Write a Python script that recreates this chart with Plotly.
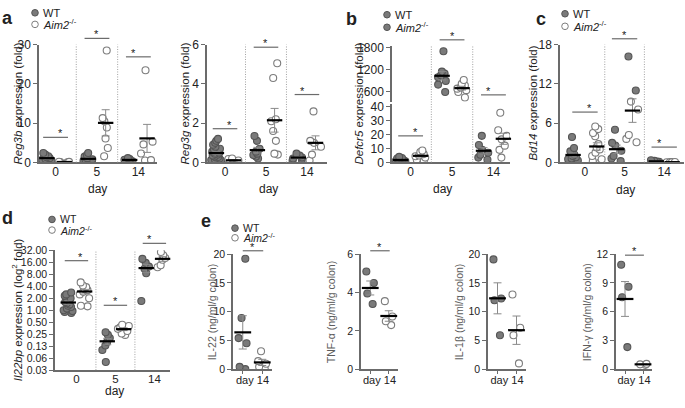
import numpy as np
import plotly.graph_objects as go

W, H = 685, 408

# ------------------------------------------------------------------ data
days = ["0", "5", "14"]
day_e = "day 14"

# a (left) Reg3b expression (fold)  -- per day: [d0, d5, d14]
reg3b_wt = [[2.4, 2.0, 1.6, 1.3, 1.1, 0.9, 0.7, 0.5, 0.3, 0.2],
            [2.4, 1.9, 1.5, 1.1, 0.8, 0.6, 0.4, 0.3, 0.2, 0.1],
            [1.1, 0.9, 0.7, 0.5, 0.4, 0.3]]
reg3b_ko = [[0.2, 0.15, 0.1, 0.05],
            [28.5, 11.3, 10.5, 8.9, 6.1, 3.7, 1.6],
            [23.5, 5.3, 4.6, 2.3, 0.6, 0.5]]
reg3b_sig = [6.4, 31.6, 26.9]
reg3b_ticks = [0, 10, 20, 30]

# a (right) Reg3g expression (fold)
reg3g_wt = [[1.2, 1.1, 1.0, 0.9, 0.8, 0.7, 0.65, 0.55, 0.5, 0.45, 0.4, 0.35,
             0.3, 0.28, 0.25, 0.2, 0.15, 0.12, 0.1, 0.05, 0.03],
            [1.35, 1.1, 0.7, 0.55, 0.45, 0.38, 0.3, 0.2],
            [0.45, 0.35, 0.25, 0.2, 0.15, 0.1]]
reg3g_ko = [[0.2, 0.18, 0.1, 0.05, 0.02],
            [5.05, 4.3, 2.2, 2.1, 1.6, 1.1, 0.45, 0.4],
            [2.6, 1.1, 1.0, 0.8, 0.4, 0.1]]
reg3g_sig = [1.72, 5.87, 3.46]
reg3g_ticks = [0, 2, 4, 6]

# b Defcr5 expression (fold) (broken axis; day 5 on upper segment)
defcr5_wt = [[4.0, 3.2, 2.8, 2.4, 2.1, 1.8, 1.5, 1.2, 1.0, 0.8, 0.5, 0.3],
             [1700, 1150, 1100, 1050, 1000, 900, 800, 600],
             [19, 12.5, 9, 7, 5.5, 3.5, 2]]
defcr5_ko = [[8.5, 7.5, 6.0, 5.0, 4.5, 3.5, 2.0, 1.0],
             [924, 820, 775, 720, 690, 650, 600, 450],
             [35.5, 23, 19, 16.5, 12, 9, 3.5]]
defcr5_sig = [19, 2009, 522]
defcr5_ticks_low = [0, 10, 20, 30, 40]
defcr5_ticks_up = [600, 1200, 1800]

# c Bd14 expression (fold)
bd14_wt = [[3.9, 2.2, 1.7, 1.5, 1.2, 1.0, 0.8, 0.6, 0.5, 0.3, 0.1, 0.0],
           [5.0, 3.0, 2.6, 1.8, 1.0, 0.6, 0.2],
           [0.35, 0.25, 0.15, 0.1, 0.05]]
bd14_ko = [[5.5, 5.1, 4.5, 4.0, 2.8, 2.3, 2.0, 1.5, 1.0, 0.5, 0.2, 0.0],
           [9.3, 8.1, 4.2, 3.6, 3.1],
           [0.08, 0.05, 0.05, 0.03]]
bd14_ko_d5_dark = [16.2, 11.0]
bd14_sig = [7.7, 18.9, 2.35]
bd14_ticks = [0, 6, 12, 18]

# d Il22bp expression (log2 fold)
il22bp_wt = [[2.8, 2.5, 2.3, 2.0, 1.9, 1.7, 1.6, 1.5, 1.4, 1.3, 1.2, 1.1, 1.0,
              0.95, 0.9, 0.85],
             [0.28, 0.24, 0.2, 0.16, 0.13, 0.1, 0.05],
             [19.5, 15.5, 12.5, 11, 8.5, 1.7]]
il22bp_ko = [[5.0, 4.2, 3.8, 3.4, 3.2, 2.9, 2.5, 2.0, 1.3, 1.25],
             [0.43, 0.4, 0.37, 0.34, 0.3, 0.26, 0.24],
             [29, 24, 20.5, 18.5, 13.5, 12]]
il22bp_sig = [17.6, 1.33, 48]
il22bp_tickvals = [32, 16, 8, 4, 2, 1, 0.5, 0.25, 0.125, 0.0625, 0.03125]
il22bp_ticktext = ["32.00", "16.00", "8.00", "4.00", "2.00", "1.00", "0.50",
                   "0.25", "0.13", "0.06", "0.03"]

# e cytokines at day 14 (ng/ml/g colon)
il22_wt = [19.2, 8.9, 5.4, 4.5, 0.4, 0.0]
il22_ko = [3.1, 1.4, 0.95, 0.4, 0.0]
tnf_wt = [5.1, 4.5, 3.95, 3.4]
tnf_ko = [3.55, 2.75, 2.5, 2.3]
il1b_wt = [19.1, 12.3, 12.0, 5.9]
il1b_ko = [13.0, 7.2, 5.9, 1.0]
ifng_wt = [10.9, 8.6, 7.5, 2.3]
ifng_ko = [0.55, 0.5, 0.45]
e_sig = [20.6, 6.18, None, 11.9]

# ------------------------------------------------------------------ style
FONT = "Liberation Sans, Arial, sans-serif"
AX = "#6b6b6b"
WT_FILL = "#7a7a7a"
WT_EDGE = "#555555"
KO_EDGE = "#7d7d7d"
SEP = dict(color="#a0a0a0", width=1, dash="1px,1.5px")
MS = 7

fig = go.Figure()
layout = dict(width=W, height=H, margin=dict(l=0, r=0, t=0, b=0),
              paper_bgcolor="white", plot_bgcolor="rgba(0,0,0,0)",
              showlegend=False, boxmode="overlay", boxgap=0, boxgroupgap=0,
              font=dict(family=FONT, color="#222222", size=12))
shapes, annotations = [], []
XR, YR, YLOG = {}, {}, {}


def fx(px):
    return px / W


def fy(py):
    return 1 - py / H


def xn(n):
    return "x" if n == 1 else f"x{n}"


def yn(n):
    return "y" if n == 1 else f"y{n}"


def axes(n, xpx, ypx, xr, yr, yticks, ytext=None, xkw=None, ylog=False,
         tick_size=12, x_visible=True):
    XR[n], YR[n], YLOG[n] = xr, yr, ylog
    xa = dict(domain=[fx(xpx[0]), fx(xpx[1])], range=list(xr), anchor=yn(n),
              showline=x_visible, linecolor=AX, linewidth=1.5, showgrid=False,
              zeroline=False, ticks="", ticklabelstandoff=-3,
              tickfont=dict(size=tick_size),
              visible=x_visible, fixedrange=True)
    if xkw:
        xa.update(xkw)
    ya = dict(domain=[fy(ypx[1]), fy(ypx[0])], anchor=xn(n), showline=True,
              linecolor=AX, linewidth=1.5, showgrid=False, zeroline=False,
              ticks="outside", ticklen=4, tickwidth=1.2, tickcolor=AX,
              tickmode="array", tickvals=yticks,
              tickfont=dict(size=tick_size), fixedrange=True)
    if ylog:
        ya.update(type="log", range=[np.log10(yr[0]), np.log10(yr[1])])
    else:
        ya.update(range=list(yr))
    if ytext is not None:
        ya["ticktext"] = ytext
    layout["xaxis" if n == 1 else f"xaxis{n}"] = xa
    layout["yaxis" if n == 1 else f"yaxis{n}"] = ya


def points(n, xs, ys, dark, width):
    fig.add_trace(go.Box(
        x=xs, y=ys, xaxis=xn(n), yaxis=yn(n), boxpoints="all", jitter=1,
        pointpos=0, width=width, fillcolor="rgba(0,0,0,0)",
        line=dict(width=0, color="rgba(0,0,0,0)"), whiskerwidth=0,
        marker=dict(size=MS, color=WT_FILL if dark else "white",
                    line=dict(color=WT_EDGE if dark else KO_EDGE, width=1.1)),
        hoverinfo="skip"))


def mean_sem(v):
    v = np.asarray(v, dtype=float)
    return v.mean(), (v.std(ddof=1) / np.sqrt(len(v)) if len(v) > 1 else 0.0)


def means(n, xs, groups, size=11):
    ms = [mean_sem(g) for g in groups]
    fig.add_trace(go.Scatter(
        x=xs, y=[m for m, _ in ms], xaxis=xn(n), yaxis=yn(n), mode="markers",
        cliponaxis=False,
        marker=dict(symbol="line-ew", size=size, color="black",
                    line=dict(color="black", width=2.2)),
        error_y=dict(type="data", array=[s for _, s in ms], color="#8a8a8a",
                     thickness=1, width=4),
        hoverinfo="skip"))


def xfrac(n, x):
    r = XR[n]
    return (x - r[0]) / (r[1] - r[0])


def yfrac(n, y):
    r = YR[n]
    if YLOG[n]:
        return (np.log10(y) - np.log10(r[0])) / (np.log10(r[1]) - np.log10(r[0]))
    return (y - r[0]) / (r[1] - r[0])


def sig(n, x0, x1, y):
    xf0, xf1, yf = xfrac(n, x0), xfrac(n, x1), yfrac(n, y)
    shapes.append(dict(type="line", xref=f"{xn(n)} domain", yref=f"{yn(n)} domain",
                       x0=xf0, x1=xf1, y0=yf, y1=yf,
                       line=dict(color=AX, width=1.2)))
    annotations.append(dict(text="*", xref=f"{xn(n)} domain",
                            yref=f"{yn(n)} domain", x=(xf0 + xf1) / 2, y=yf,
                            yanchor="bottom", showarrow=False, yshift=-4,
                            font=dict(size=11, color="#222")))


def separators(n, xs, paper_y=None):
    for x in xs:
        if paper_y is None:
            shapes.append(dict(type="line", xref=xn(n), yref=f"{yn(n)} domain",
                               x0=x, x1=x, y0=0, y1=1, line=SEP))
        else:
            shapes.append(dict(type="line", xref=xn(n), yref="paper",
                               x0=x, x1=x, y0=paper_y[0], y1=paper_y[1],
                               line=SEP))


def text(s, xpx, ypx, size=12, angle=0, bold=False, color="#222", xanchor="center"):
    annotations.append(dict(text=f"<b>{s}</b>" if bold else s, xref="paper",
                            yref="paper", x=fx(xpx), y=fy(ypx), showarrow=False,
                            xanchor=xanchor, yanchor="middle", textangle=angle,
                            font=dict(size=size, color=color, family=FONT)))


def legend(xpx, y1, y2, ko_dark=False, size=11, r=3.3):
    for yy, dark, lab in [(y1, True, "WT"),
                          (y2, ko_dark, "<i>Aim2</i><sup>-/-</sup>")]:
        shapes.append(dict(type="circle", xref="paper", yref="paper",
                           xsizemode="pixel", ysizemode="pixel",
                           xanchor=fx(xpx), yanchor=fy(yy),
                           x0=-r, x1=r, y0=-r, y1=r,
                           fillcolor=WT_FILL if dark else "white",
                           line=dict(color=WT_EDGE if dark else KO_EDGE, width=1)))
        text(lab, xpx + 6, yy, size=size, xanchor="left")


def group_panel(n, xpx, ypx, xr, yr, yticks, wt, ko, sigs, off=0.21, bw=0.3,
                ytext=None, ylog=False, tick_size=12, xtick_size=12):
    axes(n, xpx, ypx, xr, yr, yticks, ytext=ytext, ylog=ylog,
         tick_size=tick_size,
         xkw=dict(tickmode="array", tickvals=[1, 2, 3], ticktext=days,
                  tickfont=dict(size=xtick_size)))
    for groups, dark, sgn in [(wt, True, -1), (ko, False, 1)]:
        xs, ys = [], []
        for g, vals in enumerate(groups):
            xs += [g + 1 + sgn * off] * len(vals)
            ys += vals
        points(n, xs, ys, dark, bw)
        means(n, [g + 1 + sgn * off for g in range(3)], groups)
    separators(n, [1.5, 2.5])
    for g, y in enumerate(sigs):
        sig(n, g + 1 - 0.3, g + 1 + 0.3, y)


# ------------------------------------------------------------------ panel a
group_panel(1, (39, 157), (39, 161), (0.6, 3.45), (0, 30), reg3b_ticks,
            reg3b_wt, reg3b_ko, reg3b_sig)
group_panel(2, (207, 327), (39, 161), (0.56, 3.49), (0, 6), reg3g_ticks,
            reg3g_wt, reg3g_ko, reg3g_sig)

# ------------------------------------------------------------------ panel b (broken axis)
b_xr = (0.55, 3.4)
low_top = 40 * (161 - 100) / (161 - 103)
axes(3, (392, 510), (100, 161), b_xr, (0, low_top), defcr5_ticks_low,
     xkw=dict(tickmode="array", tickvals=[1, 2, 3], ticktext=days))
up_scale = (1800 - 600) / (88 - 42)
axes(4, (392, 510), (40, 98), b_xr,
     (600 - (98 - 88) * up_scale, 1800 + (42 - 40) * up_scale),
     defcr5_ticks_up, x_visible=False)
off = 0.24
for groups, dark, sgn in [(defcr5_wt, True, -1), (defcr5_ko, False, 1)]:
    lo = [groups[0], groups[2]]
    lo_x = [1 + sgn * off, 3 + sgn * off]
    xs, ys = [], []
    for x, v in zip(lo_x, lo):
        xs += [x] * len(v)
        ys += v
    points(3, xs, ys, dark, 0.3)
    means(3, lo_x, lo)
    points(4, [2 + sgn * off] * len(groups[1]), groups[1], dark, 0.3)
    means(4, [2 + sgn * off], [groups[1]])
separators(3, [1.5, 2.5], paper_y=(fy(161), fy(40)))
sig(3, 0.7, 1.3, defcr5_sig[0])
sig(4, 1.7, 2.3, defcr5_sig[1])
sig(4, 2.7, 3.3, defcr5_sig[2])

# ------------------------------------------------------------------ panel c
c_xr = (0.37, 3.5)
axes(5, (560, 684), (39, 161), c_xr, (0, 18), bd14_ticks,
     xkw=dict(tickmode="array", tickvals=[1, 2, 3], ticktext=days))
c_off = [0.3, 0.2, 0.2]
for groups, dark, sgn in [(bd14_wt, True, -1), (bd14_ko, False, 1)]:
    xs, ys = [], []
    for g, vals in enumerate(groups):
        xs += [g + 1 + sgn * c_off[g]] * len(vals)
        ys += vals
    points(5, xs, ys, dark, 0.32)
points(5, [2 + c_off[1]] * len(bd14_ko_d5_dark), bd14_ko_d5_dark, True, 0.32)
means(5, [g + 1 - c_off[g] for g in range(3)], bd14_wt)
means(5, [g + 1 + c_off[g] for g in range(3)],
      [bd14_ko[0], bd14_ko[1] + bd14_ko_d5_dark, bd14_ko[2]])
separators(5, [1.5, 2.5])
for g, y in enumerate(bd14_sig):
    sig(5, g + 1 - 0.32, g + 1 + 0.32, y)

# ------------------------------------------------------------------ panel d
group_panel(6, (55, 170), (252, 376), (0.45, 3.4), (0.03125, 32),
            il22bp_tickvals, il22bp_wt, il22bp_ko, il22bp_sig,
            ytext=il22bp_ticktext, ylog=True, tick_size=10.5, xtick_size=11.5)

# ------------------------------------------------------------------ panel e
e_panels = [
    (7, (233, 272), (0, 20), [0, 5, 10, 15, 20], il22_wt, il22_ko),
    (8, (361, 398), (0, 6), [0, 2, 4, 6], tnf_wt, tnf_ko),
    (9, (488, 526), (0, 20), [0, 5, 10, 15, 20], il1b_wt, il1b_ko),
    (10, (616, 652), (0, 12), [0, 3, 6, 9, 12], ifng_wt, ifng_ko),
]
for (n, xpx, yr, yt, wt, ko), s in zip(e_panels, e_sig):
    axes(n, xpx, (256, 375), (0.5, 2.5), yr, yt, tick_size=10.5,
         xkw=dict(tickmode="array", tickvals=[1.5], ticktext=[day_e],
                  ticks="", ticklabelstandoff=0, tickfont=dict(size=11),
                  minor=dict(tickmode="array", tickvals=[1, 2], ticks="outside",
                             ticklen=3, tickcolor=AX, tickwidth=1.2)))
    points(n, [1] * len(wt), wt, True, 0.5)
    points(n, [2] * len(ko), ko, False, 0.5)
    means(n, [1, 2], [wt, ko], size=12)
    if s is not None:
        sig(n, 1.0, 2.05, s)

# ------------------------------------------------------------------ texts
text("a", 7, 11, size=18, bold=True)
text("b", 351, 12, size=18, bold=True)
text("c", 541, 12, size=18, bold=True)
text("d", 7, 219, size=18, bold=True)
text("e", 206, 222, size=18, bold=True)

legend(35, 6, 18)
legend(387, 8, 21, ko_dark=True)
legend(565, 7, 20)
legend(52, 220, 231, size=10.5)
legend(235, 229, 239, size=10.5)

text("<i>Reg3b</i> expression (fold)", 18, 100, size=11.5, angle=-90)
text("<i>Reg3g</i> expression (fold)", 185, 100, size=11.5, angle=-90)
text("<i>Defcr5</i> expression (fold)", 359, 100, size=11.5, angle=-90)
text("<i>Bd14</i> expression (fold)", 533, 100, size=11.5, angle=-90)
text("<i>Il22bp</i> expression (log<sup>2</sup> fold)", 17, 314, size=11.5, angle=-90)
GT = "#5c5c5c"
text("IL-22 (ng/ml/g colon)", 212, 316, size=10.5, angle=-90, color=GT)
text("TNF-α (ng/ml/g colon)", 331, 316, size=10.5, angle=-90, color=GT)
text("IL-1β (ng/ml/g colon)", 459, 316, size=10.5, angle=-90, color=GT)
text("IFN-γ (ng/ml/g colon)", 587, 316, size=10.5, angle=-90, color=GT)

text("day", 97, 188, size=12)
text("day", 268, 188, size=12)
text("day", 442, 188, size=12)
text("day", 625, 190, size=12)
text("day", 115, 398, size=12)

layout["shapes"] = shapes
layout["annotations"] = annotations
fig.update_layout(**layout)
fig.write_html("out.html", config={"displayModeBar": False},
               post_script="document.body.style.margin='0px';"
                           "document.body.style.overflow='hidden';")
